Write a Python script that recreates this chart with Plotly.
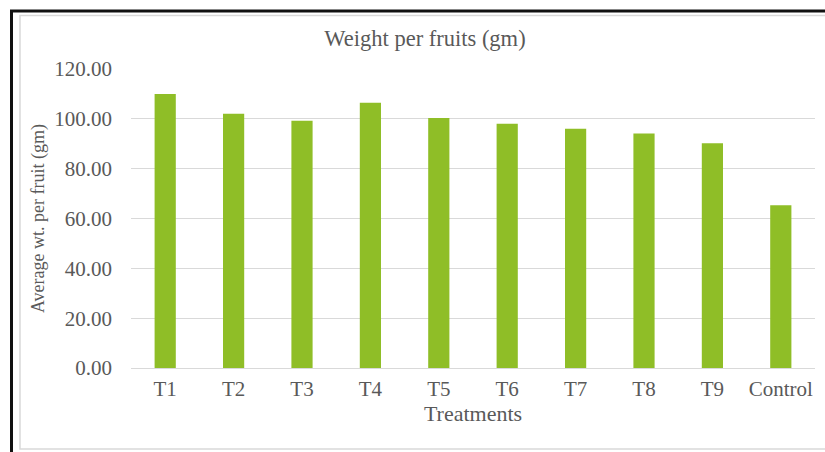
import plotly.graph_objects as go

# Treatments and average fruit weight (gm)
treatments = ["T1", "T2", "T3", "T4", "T5", "T6", "T7", "T8", "T9", "Control"]
avg_weight = [110.0, 102.0, 99.2, 106.5, 100.3, 98.0, 96.0, 94.1, 90.2, 65.3]
y_ticks = [0, 20, 40, 60, 80, 100, 120]

W, H = 825, 452
L, R, T, B = 131, 10, 69, 84
PW, PH = W - L - R, H - T - B

TEXT = "#595959"
GRID = "#D9D9D9"
FONT = "Liberation Serif"


def px_x(px):
    return (px - L) / PW


def px_y(py):
    return (H - B - py) / PH


fig = go.Figure(
    go.Bar(
        x=treatments,
        y=avg_weight,
        marker=dict(color="#8FBE27", line=dict(width=0)),
        width=0.31,
    )
)

shapes = [
    # outer dark frame (top and left edges)
    dict(type="line", xref="paper", yref="paper",
         x0=px_x(10), x1=px_x(830), y0=px_y(11), y1=px_y(11),
         line=dict(color="#111111", width=3)),
    dict(type="line", xref="paper", yref="paper",
         x0=px_x(11.5), x1=px_x(11.5), y0=px_y(10), y1=px_y(460),
         line=dict(color="#111111", width=3)),
    # inner light chart-area frame
    dict(type="rect", xref="paper", yref="paper",
         x0=px_x(20), x1=px_x(840), y0=px_y(15.5), y1=px_y(449),
         line=dict(color=GRID, width=1.5), fillcolor="rgba(0,0,0,0)", layer="below"),
]

fig.update_layout(
    width=W,
    height=H,
    margin=dict(l=L, r=R, t=T, b=B, pad=0),
    paper_bgcolor="white",
    plot_bgcolor="white",
    showlegend=False,
    font=dict(family=FONT, color=TEXT, size=21),
    title=dict(
        text="Weight per fruits (gm)",
        x=425 / W, xref="container", xanchor="center",
        y=1 - 38.5 / H, yref="container", yanchor="middle",
        font=dict(family=FONT, size=22.5, color=TEXT),
    ),
    shapes=shapes,
    xaxis=dict(
        showgrid=False,
        showline=False,
        ticks="",
        tickfont=dict(size=21, color=TEXT),
        ticklabelstandoff=6,
        title=dict(text="Treatments", standoff=0, font=dict(size=22, color=TEXT)),
    ),
    yaxis=dict(
        range=[0, 120],
        tickvals=y_ticks,
        tickformat=".2f",
        showgrid=True,
        gridcolor=GRID,
        gridwidth=1.2,
        zeroline=True,
        zerolinecolor=GRID,
        zerolinewidth=1.2,
        showline=False,
        ticks="",
        tickfont=dict(size=21, color=TEXT),
        ticklabelstandoff=18,
        title=dict(text="Average wt. per fruit (gm)", standoff=4,
                   font=dict(size=18, color=TEXT)),
    ),
    bargap=0.69,
)

fig.write_html("out.html")
